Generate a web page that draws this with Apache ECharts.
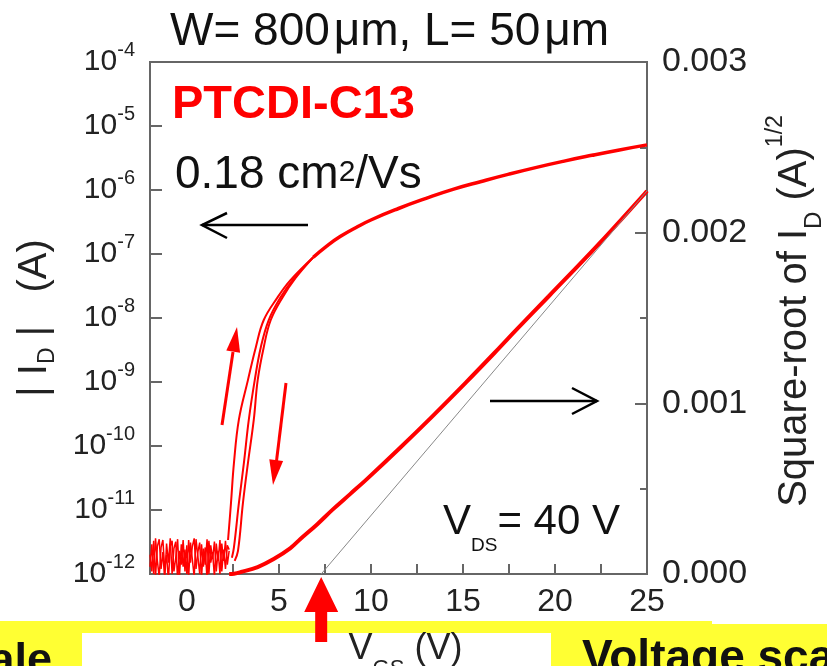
<!DOCTYPE html>
<html><head><meta charset="utf-8">
<script src="https://cdn.jsdelivr.net/npm/echarts@6/dist/echarts.min.js"></script>
<style>html,body{margin:0;padding:0;background:#fff}#c{width:827px;height:666px}</style>
</head><body><div id="c"></div>
<script>
const FONT = 'Liberation Sans, Arial, Helvetica, sans-serif';

// axis ticks / labels
const xTickValues = [0, 2.5, 5, 7.5, 10, 12.5, 15, 17.5, 20, 22.5, 25];
const xLabelValues = [0, 5, 10, 15, 20, 25];

// off-state noise (A), V_GS from -2 to 2.3 V
const noiseVgs = [-2.0,-1.9,-1.8,-1.7,-1.6,-1.5,-1.4,-1.3,-1.2,-1.1,-1.0,-0.9,-0.8,-0.7,-0.6,-0.5,-0.4,-0.3,-0.2,-0.1,0.0,0.1,0.2,0.3,0.4,0.5,0.6,0.7,0.8,0.9,1.0,1.1,1.2,1.3,1.4,1.5,1.6,1.7,1.8,1.9,2.0,2.1,2.2,2.3];
const noiseFwd = [2.0e-12,1.1e-12,3.3e-12,0.9e-12,2.7e-12,3.5e-12,1.2e-12,2.2e-12,0.8e-12,3.0e-12,1.5e-12,3.6e-12,1.0e-12,2.5e-12,3.2e-12,0.8e-12,2.3e-12,1.4e-12,3.4e-12,1.1e-12,2.8e-12,0.9e-12,3.1e-12,1.7e-12,0.9e-12,3.5e-12,1.9e-12,1.0e-12,2.9e-12,1.3e-12,2.6e-12,0.8e-12,3.3e-12,1.5e-12,2.2e-12,0.9e-12,3.0e-12,1.6e-12,3.4e-12,1.1e-12,2.4e-12,1.2e-12,2.8e-12,2.4e-12];
const noiseRev = [1.3e-12,2.9e-12,1.0e-12,3.6e-12,1.6e-12,0.9e-12,2.6e-12,3.4e-12,1.2e-12,2.0e-12,0.8e-12,2.7e-12,3.3e-12,1.1e-12,1.8e-12,3.5e-12,0.9e-12,2.9e-12,1.3e-12,2.4e-12,1.0e-12,3.4e-12,1.5e-12,2.7e-12,3.6e-12,1.2e-12,2.2e-12,3.1e-12,0.9e-12,2.5e-12,1.4e-12,3.5e-12,1.0e-12,2.8e-12,1.7e-12,3.2e-12,1.1e-12,2.3e-12,1.0e-12,3.0e-12,1.6e-12,3.3e-12,1.4e-12,2.3e-12];

// sub-threshold branches |I_D| (A)
const vgsFwd = [2.24, 2.40, 2.56, 2.83, 3.32, 3.75, 4.18, 4.93, 5.63, 6.87];
const idFwd  = [3.4e-12, 1.29e-11, 5.4e-11, 2.6e-10, 1.07e-9, 3.5e-9, 9.3e-9, 2.1e-8, 3.9e-8, 8.9e-8];
const vgsRev1 = [2.45, 2.56, 2.83, 3.10, 3.37, 3.69, 4.02, 4.45, 5.09, 5.80, 6.87];
const idRev1  = [1.8e-12, 2.6e-12, 1.29e-11, 5.4e-11, 2.6e-10, 1.07e-9, 3.5e-9, 9.3e-9, 2.1e-8, 4.1e-8, 8.9e-8];
const vgsRev2 = [2.6, 2.78, 3.05, 3.32, 3.64, 3.85, 4.18, 4.56, 5.20, 5.90, 6.87];
const idRev2  = [1.6e-12, 2.3e-12, 1.29e-11, 5.4e-11, 2.6e-10, 1.07e-9, 3.5e-9, 9.3e-9, 2.1e-8, 4.2e-8, 8.9e-8];

// on-state (all sweeps merged)
const vgsOn = [6.87, 7.6, 8.33, 9.2, 10.0, 11.5, 13.0, 14.5, 16.0, 17.5, 19.0, 20.5, 22.0, 23.5, 25.0];
const idOn  = [8.9e-8, 1.33e-7, 1.87e-7, 2.6e-7, 3.4e-7, 5.14e-7, 7.4e-7, 1.03e-6, 1.36e-6, 1.77e-6, 2.26e-6, 2.83e-6, 3.48e-6, 4.23e-6, 5.07e-6];

// square-root of I_D (A^1/2)
const vgsSqrt = [2.3, 2.56, 2.94, 3.85, 4.72, 5.63, 6.17, 7.09, 7.95, 8.87, 9.78, 11.56, 13.34, 15.17, 16.95, 17.87, 19.65, 22.35, 24.87, 25];
const sqrtId  = [0, 0.000002, 0.0000117, 0.0000409, 0.0000877, 0.000152, 0.000205, 0.000292, 0.00038, 0.000468, 0.000556, 0.000737, 0.000924, 0.001123, 0.001322, 0.001427, 0.001626, 0.00193, 0.002228, 0.002245];

// linear fit -> threshold voltage
const fitVgs = [7.3, 25];
const fitSqrt = [0, 0.002245];
const VTH = 7.3;

const zip = (xs, ys) => xs.map((x, i) => [x, ys[i]]);
const RED = '#ff0000';
const AX = '#666666';

const chart = echarts.init(document.getElementById('c'), null, {renderer: 'canvas'});

const lineS = (name, data, width, yIdx, color, smooth) => ({
  name, type: 'line', data, yAxisIndex: yIdx, showSymbol: false, symbol: 'none',
  smooth: smooth || false,
  lineStyle: {color: color || RED, width}, itemStyle: {color: color || RED}, z: 3, clip: true
});

chart.setOption({
  animation: false,
  grid: {left: 150, right: 180, top: 62, bottom: 92, containLabel: false, outerBoundsMode: 'none',
    show: true, borderColor: AX, borderWidth: 2, backgroundColor: 'transparent'},
  xAxis: {
    type: 'value', min: -2, max: 25,
    name: '{n|V}{s|GS}{n| (V)}', nameLocation: 'middle', nameGap: 44,
    nameTextStyle: {padding: [0, 0, 0, 14], rich: {n: {fontSize: 36, fontFamily: FONT, color: '#222'}, s: {fontSize: 22, fontFamily: FONT, color: '#222', padding: [40, 0, 0, 0]}}},
    axisLine: {show: true, onZero: false, lineStyle: {color: AX, width: 2}},
    axisTick: {show: true, inside: true, length: 10, lineStyle: {color: AX, width: 2}, customValues: xTickValues},
    axisLabel: {show: true, fontSize: 32, fontFamily: FONT, color: '#222', margin: 12, customValues: xLabelValues},
    splitLine: {show: false}
  },
  yAxis: [{
    type: 'log', logBase: 10, min: 1e-12, max: 1e-4, position: 'left',
    name: '{n|| I}{s|D}{n| |   (A)}', nameLocation: 'middle', nameRotate: 90, nameGap: 91,
    nameTextStyle: {rich: {n: {fontSize: 40, fontFamily: FONT, color: '#222'}, s: {fontSize: 23, fontFamily: FONT, color: '#222', padding: [26, 0, 0, 0]}}},
    axisLine: {show: true, onZero: false, lineStyle: {color: AX, width: 2}},
    axisTick: {show: true, inside: true, length: 12, lineStyle: {color: AX, width: 2}},
    axisLabel: {
      margin: 15, color: '#222',
      formatter: v => '{b|10}{e|' + Math.round(Math.log10(v)) + '}',
      rich: {b: {fontSize: 30, fontFamily: FONT, color: '#222'}, e: {fontSize: 20, fontFamily: FONT, color: '#222', padding: [0, 0, 24, 0]}}
    },
    splitLine: {show: false}
  }, {
    type: 'value', min: 0, max: 0.003, interval: 0.001, position: 'right',
    name: '{n|Square-root of I}{s|D}{n| (A)}{p|1/2}', nameLocation: 'middle', nameRotate: 90, nameGap: 117,
    nameTextStyle: {padding: [0, 0, 0, 14], rich: {
      n: {fontSize: 40, fontFamily: FONT, color: '#222'},
      s: {fontSize: 24, fontFamily: FONT, color: '#222', padding: [38, 0, 0, 0]},
      p: {fontSize: 23, fontFamily: FONT, color: '#222', padding: [0, 0, 38, 0]}
    }},
    axisLine: {show: true, onZero: false, lineStyle: {color: AX, width: 2}},
    axisTick: {show: true, inside: true, length: 12, lineStyle: {color: AX, width: 2}},
    minorTick: {show: true, splitNumber: 2, length: 7, lineStyle: {color: AX, width: 2}},
    axisLabel: {fontSize: 34, fontFamily: FONT, color: '#222', margin: 15, formatter: v => v.toFixed(3)},
    splitLine: {show: false}
  }],
  series: [
    lineS('noise fwd', zip(noiseVgs, noiseFwd), 1.5, 0),
    lineS('noise rev', zip(noiseVgs, noiseRev), 1.5, 0),
    lineS('forward sweep', zip(vgsFwd, idFwd), 2, 0, RED, 0.4),
    lineS('reverse sweep 1', zip(vgsRev1, idRev1), 2, 0, RED, 0.4),
    lineS('reverse sweep 2', zip(vgsRev2, idRev2), 2, 0, RED, 0.4),
    lineS('on current', zip(vgsOn, idOn), 3.5, 0, RED, 0.5),
    lineS('sqrt ID', zip(vgsSqrt, sqrtId), 4, 1, RED, 0.4),
    lineS('linear fit', zip(fitVgs, fitSqrt), 1, 1, '#888888')
  ]
});

const vthPx = chart.convertToPixel({xAxisIndex: 0}, VTH);
const axisBottom = 574;

const txt = (x, y, text, size, opts) => Object.assign({
  type: 'text', x, y, z: 20,
  style: Object.assign({text, fontSize: size, fontFamily: FONT, fill: '#111', verticalAlign: 'middle', align: 'left'}, opts || {})
});

chart.setOption({
  graphic: [
    {type: 'rect', z: -10, shape: {x: 0, y: 621, width: 827, height: 45}, style: {fill: '#ffff33'}},
    {type: 'rect', z: -9, shape: {x: 712, y: 619, width: 115, height: 5}, style: {fill: '#ffffff'}},
    {type: 'rect', z: -9, shape: {x: 82, y: 633, width: 469, height: 33}, style: {fill: '#ffffff'}},
    txt(52, 662, 'ale', 45, {fontWeight: 'bold', align: 'right'}),
    txt(582, 659, 'Voltage sca', 46, {fontWeight: 'bold'}),
    txt(170, 32, 'W= 800\u200a\u03bcm, L= 50\u200a\u03bcm', 46),
    txt(172, 105, 'PTCDI-C13', 47, {fontWeight: 'bold', fill: RED}),
    {type: 'text', x: 175, y: 175, z: 20, style: {text: '{n|0.18 cm}{s|2}{n|/Vs}', verticalAlign: 'middle', rich: {
      n: {fontSize: 46, fontFamily: FONT, fill: '#111'}, s: {fontSize: 30, fontFamily: FONT, fill: '#111', padding: [0, 0, 4, 0]}}}},
    {type: 'text', x: 443, y: 522, z: 20, style: {text: '{n|V}{s|DS}{n|= 40 V}', verticalAlign: 'middle', rich: {
      n: {fontSize: 42, fontFamily: FONT, fill: '#111'}, s: {fontSize: 19, fontFamily: FONT, fill: '#111', padding: [48, 0, 0, 0]}}}},
    // black arrows
    {type: 'line', z: 20, shape: {x1: 202, y1: 225, x2: 308, y2: 225}, style: {stroke: '#000', lineWidth: 2.5}},
    {type: 'polyline', z: 20, shape: {points: [[227, 213], [202, 225], [227, 238]]}, style: {stroke: '#000', lineWidth: 2.5, fill: null}},
    {type: 'line', z: 20, shape: {x1: 490, y1: 401, x2: 597, y2: 401}, style: {stroke: '#000', lineWidth: 2.5}},
    {type: 'polyline', z: 20, shape: {points: [[572, 388], [597, 401], [572, 414]]}, style: {stroke: '#000', lineWidth: 2.5, fill: null}},
    // small red sweep arrows
    {type: 'line', z: 20, shape: {x1: 222, y1: 425, x2: 233, y2: 352}, style: {stroke: RED, lineWidth: 3}},
    {type: 'polygon', z: 20, shape: {points: [[237, 327], [226.3, 350.6], [240.1, 352.8]]}, style: {fill: RED}},
    {type: 'line', z: 20, shape: {x1: 286, y1: 383, x2: 276.5, y2: 461}, style: {stroke: RED, lineWidth: 3}},
    {type: 'polygon', z: 20, shape: {points: [[273, 485], [269.3, 459.3], [283.1, 461.1]]}, style: {fill: RED}},
    // threshold arrow
    {type: 'polygon', z: 20, shape: {points: [
      [vthPx, axisBottom + 3], [vthPx + 17, axisBottom + 38], [vthPx + 6, axisBottom + 38], [vthPx + 6, axisBottom + 68],
      [vthPx - 6, axisBottom + 68], [vthPx - 6, axisBottom + 38], [vthPx - 17, axisBottom + 38]]}, style: {fill: RED}}
  ]
});
</script></body></html>
